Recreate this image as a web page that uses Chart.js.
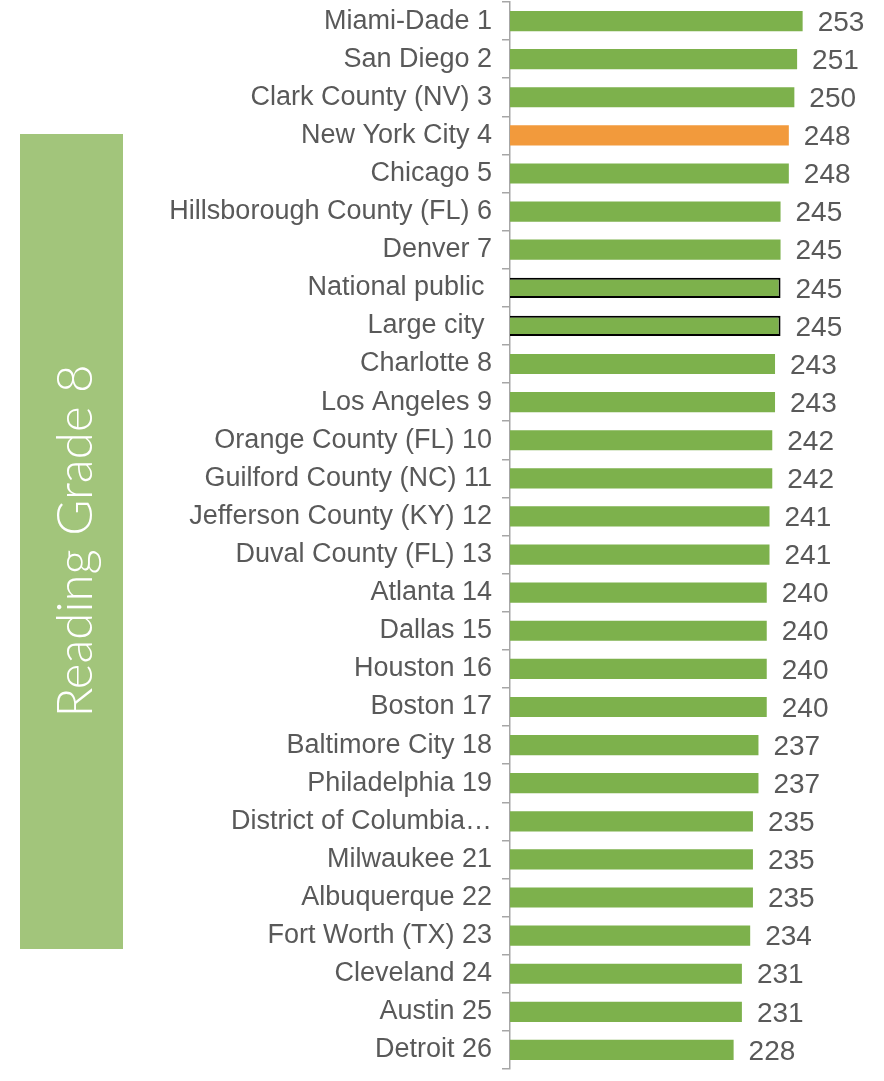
<!DOCTYPE html>
<html>
<head>
<meta charset="utf-8">
<script src="https://cdn.jsdelivr.net/npm/chart.js@4/dist/chart.umd.min.js"></script>
<style>
  body { margin: 0; background: #fff; }
  #wrap { position: relative; width: 884px; height: 1081px; }
</style>
</head>
<body>
<div id="wrap"><canvas id="readingChart"></canvas></div>
<script>
// Districts, top to bottom
var districts = ["Miami-Dade 1", "San Diego 2", "Clark County (NV) 3", "New York City 4", "Chicago 5",
  "Hillsborough County (FL) 6", "Denver 7", "National public ", "Large city ", "Charlotte 8",
  "Los Angeles 9", "Orange County (FL) 10", "Guilford County (NC) 11", "Jefferson County (KY) 12",
  "Duval County (FL) 13", "Atlanta 14", "Dallas 15", "Houston 16", "Boston 17", "Baltimore City 18",
  "Philadelphia 19", "District of Columbia\u2026", "Milwaukee 21", "Albuquerque 22",
  "Fort Worth (TX) 23", "Cleveland 24", "Austin 25", "Detroit 26"];

// Average scale scores
var scores = [253, 251, 250, 248, 248, 245, 245, 245, 245, 243, 243, 242, 242, 241,
  241, 240, 240, 240, 240, 237, 237, 235, 235, 235, 234, 231, 231, 228];

var highlighted = ["New York City 4"];
var benchmarks = ["National public ", "Large city "];
var panelTitle = "Reading Grade 8";

//Colours
var green = "#7DB14C";
var orange = "#F29A3C";
var textGray = "#595959";

var barColors = districts.map(function(d) {
  return highlighted.indexOf(d) >= 0 ? orange : green;
});
var barBorders = districts.map(function(d) {
  return benchmarks.indexOf(d) >= 0 ? 2 : 0;
});

//Green side panel with the rotated title
var sidePanel = {
  id: "sidePanel",
  beforeDraw: function(chart) {
    var c = chart.ctx;
    c.save();
    c.fillStyle = "#A2C57B";
    c.fillRect(20, 134, 103, 815);
    c.translate(76, 541);
    c.rotate(-Math.PI / 2);
    c.fillStyle = "#ffffff";
    //size the title so it spans the same length as in the slide
    c.font = "300 40px Lato, sans-serif";
    var w = c.measureText(panelTitle).width;
    var size = 40 * 353 / w;
    c.font = "300 " + size.toFixed(1) + "px Lato, sans-serif";
    c.textAlign = "center";
    c.textBaseline = "middle";
    c.fillText(panelTitle, 0, 0);
    c.restore();
  }
};

//Values written after each bar
var valueLabels = {
  id: "valueLabels",
  afterDatasetsDraw: function(chart) {
    var c = chart.ctx;
    var meta = chart.getDatasetMeta(0);
    c.save();
    c.fillStyle = textGray;
    c.font = "28px 'Liberation Sans', Arial, sans-serif";
    c.textAlign = "left";
    c.textBaseline = "middle";
    meta.data.forEach(function(bar, i) {
      c.fillText(String(scores[i]), bar.x + 15, bar.y + 2);
    });
    c.restore();
  }
};

var ctx = document.getElementById("readingChart").getContext("2d");
var chart = new Chart(ctx, {
  type: "bar",
  data: {
    labels: districts,
    datasets: [
      {
        data: scores,
        backgroundColor: barColors,
        borderColor: "#000000",
        borderWidth: barBorders,
        borderSkipped: false,
        barPercentage: 0.53,
        categoryPercentage: 1.0
      }
    ]
  },
  options: {
    indexAxis: "y",
    responsive: true,
    maintainAspectRatio: false,
    animation: false,
    layout: { padding: { top: 2, right: 14, bottom: 12, left: 0 } },
    plugins: {
      legend: { display: false },
      tooltip: { enabled: false }
    },
    scales: {
      x: {
        display: false,
        min: 147,
        max: 277.4
      },
      y: {
        afterFit: function(scale) {
          scale.width = 510;
          scale.paddingTop = 0;
          scale.paddingBottom = 0;
        },
        grid: {
          offset: true,
          drawOnChartArea: false,
          tickLength: 8,
          color: "#A6A6A6",
          lineWidth: 1.5
        },
        border: { color: "#A6A6A6", width: 1.5 },
        ticks: {
          padding: 10,
          color: textGray,
          font: { family: "'Liberation Sans', Arial, sans-serif", size: 27 }
        }
      }
    }
  },
  plugins: [sidePanel, valueLabels]
});
</script>
</body>
</html>
